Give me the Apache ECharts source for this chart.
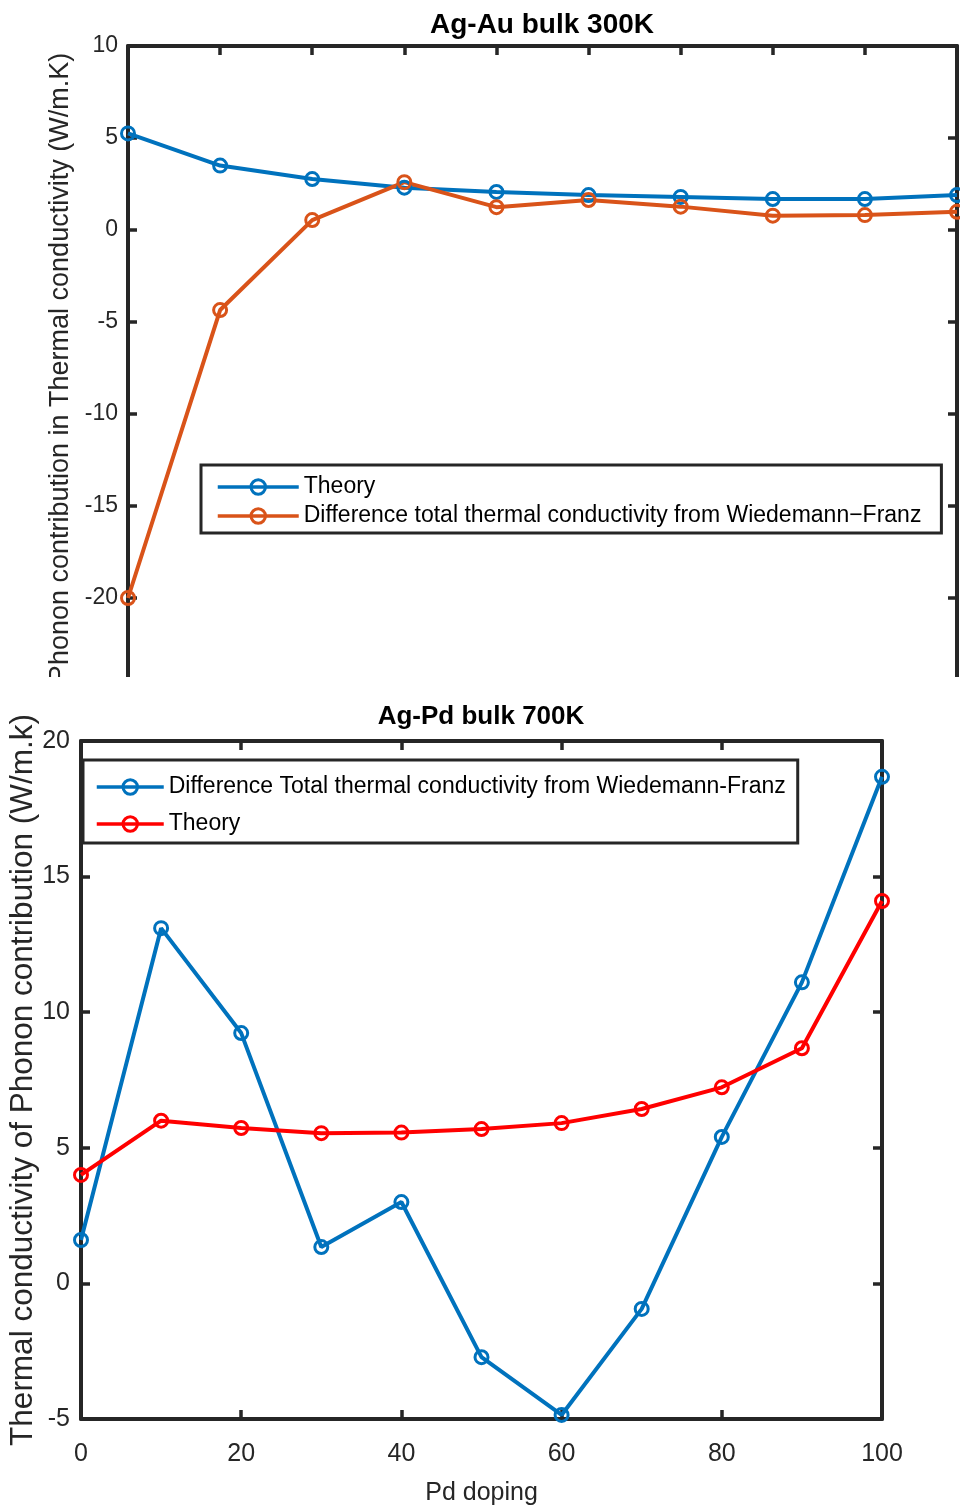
<!DOCTYPE html>
<html>
<head>
<meta charset="utf-8">
<script src="https://cdn.jsdelivr.net/npm/echarts@6/dist/echarts.min.js"></script>
<style>
html,body{margin:0;padding:0;background:#fff;}
#chart{width:960px;height:1511px;}
</style>
</head>
<body>
<div id="chart"></div>
<script>
// ---- Data: top panel (Ag-Au bulk 300K) ----
var auX = [0, 10, 20, 30, 40, 50, 60, 70, 80, 90];
var auTheory = [5.25, 3.5, 2.77, 2.3, 2.07, 1.9, 1.8, 1.68, 1.68, 1.9];
var auDiff = [-20, -4.35, 0.54, 2.6, 1.24, 1.63, 1.27, 0.78, 0.81, 0.99];
var auYTicks = [-25, 10, 5];           // min, max, interval
var auXTicks = [0, 90, 10];

// ---- Data: bottom panel (Ag-Pd bulk 700K) ----
var pdX = [0, 10, 20, 30, 40, 50, 60, 70, 80, 90, 100];
var pdDiff = [1.6, 13.1, 9.23, 1.34, 3.0, -2.72, -4.85, -0.94, 5.4, 11.1, 18.68];
var pdTheory = [4.0, 6.0, 5.73, 5.54, 5.56, 5.69, 5.91, 6.43, 7.23, 8.67, 14.1];
var pdYTicks = [-5, 20, 5];
var pdXTicks = [0, 100, 20];

var names = {
  auTheory: 'Theory',
  auDiff: 'Difference total thermal conductivity from Wiedemann\u2212Franz',
  pdDiff: 'Difference Total thermal conductivity from Wiedemann-Franz',
  pdTheory: 'Theory700'
};
var labelMap = {'Theory700': 'Theory'};

function pairs(xs, ys) { return xs.map(function (x, i) { return [x, ys[i]]; }); }

var FONT = "'Liberation Sans', Arial, Helvetica, sans-serif";
var AX = '#262626';
var BLUE = '#0072BD', ORANGE = '#D95319', RED = '#FF0000';

function lineAxis(extra) {
  var base = {
    type: 'value',
    axisLine: { show: true, onZero: false, lineStyle: { color: AX, width: 4 } },
    axisTick: { show: true, inside: true, length: 9, lineStyle: { color: AX, width: 3.5 } },
    splitLine: { show: false },
    axisLabel: { show: false }
  };
  for (var k in extra) base[k] = extra[k];
  return base;
}

function mkSeries(name, xs, ys, color, xi, yi) {
  return {
    name: name, type: 'line', xAxisIndex: xi, yAxisIndex: yi,
    data: pairs(xs, ys),
    symbol: 'circle', symbolSize: 13,
    color: color,
    lineStyle: { color: color, width: 4 },
    itemStyle: { color: 'rgba(255,255,255,0)', borderColor: color, borderWidth: 3 },
    emphasis: { disabled: true },
    z: 3
  };
}

var chart = echarts.init(document.getElementById('chart'), null, { renderer: 'canvas' });
var option = {
  animation: false,
  backgroundColor: '#fff',
  textStyle: { fontFamily: FONT },
  title: [
    { text: 'Ag-Au bulk 300K', left: 542, top: 11, textAlign: 'center', padding: 0,
      textStyle: { fontFamily: FONT, fontSize: 28, fontWeight: 'bold', color: '#000' } },
    { text: 'Ag-Pd bulk 700K', left: 481, top: 704, textAlign: 'center', padding: 0,
      textStyle: { fontFamily: FONT, fontSize: 26, fontWeight: 'bold', color: '#000' } }
  ],
  grid: [
    { left: 128, top: 46, width: 829, height: 644, outerBoundsMode: 'none', containLabel: false },
    { left: 81, top: 741, width: 801, height: 678, outerBoundsMode: 'none', containLabel: false }
  ],
  xAxis: [
    lineAxis({ gridIndex: 0, position: 'top', min: auXTicks[0], max: auXTicks[1], interval: auXTicks[2] }),
    lineAxis({ gridIndex: 1, position: 'bottom', min: pdXTicks[0], max: pdXTicks[1], interval: pdXTicks[2],
      axisLabel: { show: true, fontSize: 25, color: AX, margin: 23, fontFamily: FONT },
      name: 'Pd doping', nameLocation: 'middle', nameGap: 62,
      nameTextStyle: { fontSize: 25, color: AX, fontFamily: FONT } }),
    lineAxis({ gridIndex: 1, position: 'top', min: pdXTicks[0], max: pdXTicks[1], interval: pdXTicks[2] })
  ],
  yAxis: [
    lineAxis({ gridIndex: 0, position: 'left', min: auYTicks[0], max: auYTicks[1], interval: auYTicks[2],
      axisLabel: { show: true, fontSize: 23, color: AX, margin: 10, fontFamily: FONT,
        formatter: function (v) { return v === auYTicks[0] ? '' : String(v); } },
      name: 'Phonon contribution in Thermal conductivity (W/m.K)', nameLocation: 'middle', nameGap: 51,
      nameTextStyle: { fontSize: 27, color: AX, fontFamily: FONT } }),
    lineAxis({ gridIndex: 0, position: 'right', min: auYTicks[0], max: auYTicks[1], interval: auYTicks[2] }),
    lineAxis({ gridIndex: 1, position: 'left', min: pdYTicks[0], max: pdYTicks[1], interval: pdYTicks[2],
      axisLabel: { show: true, fontSize: 25, color: AX, margin: 11, fontFamily: FONT },
      name: 'Thermal conductivity of Phonon contribution (W/m.k)', nameLocation: 'middle', nameGap: 42,
      nameMoveOverlap: false,
      nameTextStyle: { fontSize: 31.5, color: AX, fontFamily: FONT } }),
    lineAxis({ gridIndex: 1, position: 'right', min: pdYTicks[0], max: pdYTicks[1], interval: pdYTicks[2] })
  ],
  legend: [
    { data: [names.auTheory, names.auDiff], orient: 'vertical', left: 201, top: 465,
      itemWidth: 81, itemHeight: 18, itemGap: 5, padding: [10, 20, 5, 15],
      borderColor: AX, borderWidth: 3, backgroundColor: '#fff',
      selectedMode: false,
      lineStyle: { width: 3.5 },
      itemStyle: { borderWidth: 3 },
      textStyle: { fontSize: 23, color: '#000', fontFamily: FONT, lineHeight: 24 } },
    { data: [names.pdDiff, names.pdTheory], orient: 'vertical', left: 83, top: 760,
      itemWidth: 67, itemHeight: 18, itemGap: 9, padding: [13, 12, 5, 12],
      borderColor: AX, borderWidth: 3, backgroundColor: '#fff',
      selectedMode: false,
      lineStyle: { width: 3.5 },
      itemStyle: { borderWidth: 3 },
      formatter: function (n) { return labelMap[n] || n; },
      textStyle: { fontSize: 23, color: '#000', fontFamily: FONT, lineHeight: 28 } }
  ],
  graphic: [
    { type: 'rect', shape: { x: 0, y: 677, width: 960, height: 22 }, style: { fill: '#fff' }, z: 100, silent: true }
  ],
  series: [
    mkSeries(names.auTheory, auX, auTheory, BLUE, 0, 0),
    mkSeries(names.auDiff, auX, auDiff, ORANGE, 0, 0),
    mkSeries(names.pdDiff, pdX, pdDiff, BLUE, 1, 2),
    mkSeries(names.pdTheory, pdX, pdTheory, RED, 1, 2)
  ]
};
chart.setOption(option);
</script>
</body>
</html>
